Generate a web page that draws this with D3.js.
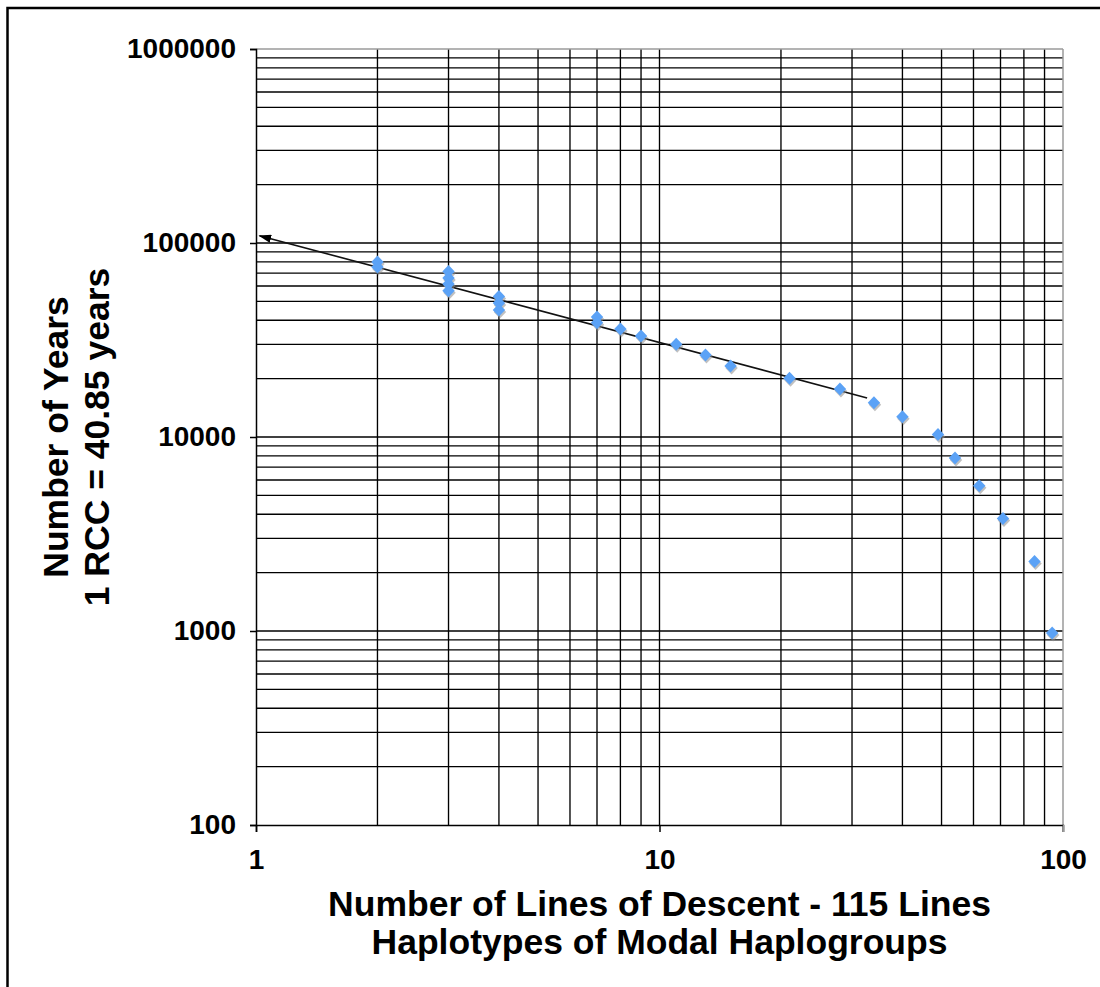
<!DOCTYPE html>
<html>
<head>
<meta charset="utf-8">
<script src="https://cdn.jsdelivr.net/npm/d3@7"></script>
<style>
  html, body { margin: 0; padding: 0; background: #fff; }
  svg { display: block; }
  text { font-family: "Liberation Sans", Arial, Helvetica, sans-serif; font-weight: bold; fill: #000; }
</style>
</head>
<body>
<svg id="chart" width="1100" height="987"></svg>
<script>
// Lines of descent (x) against estimated age in years (y)
const lines = [2, 2, 3, 3, 3, 3, 4, 4, 4, 7, 7, 8, 9, 11, 13, 15, 21, 28, 34, 40, 49, 54, 62, 71, 85, 94];
const years = [79800, 75200, 71300, 66000, 61400, 56700, 53000, 49100, 45200, 41600, 38800, 36000, 33200,
               30100, 26500, 23200, 20100, 17700, 15000, 12700, 10300, 7800, 5600, 3800, 2280, 977];

// Fitted power-law trend, drawn between these two points with an arrow at the left end
const trendLines = [1.02, 32.7];
const trendYears = [109000, 15900];

// Axis ranges and labelled ticks
const xDomain = [1, 100];
const yDomain = [100, 1000000];
const xTickLabels = [1, 10, 100];
const yTickLabels = [100, 1000, 10000, 100000, 1000000];

const xTitle = ["Number of Lines of Descent - 115 Lines", "Haplotypes of Modal Haplogroups"];
const yTitle = ["Number of Years", "1 RCC = 40.85 years"];

const svg = d3.select("#chart");
const L = 256, R = 1063, T = 49, B = 825;

const x = d3.scaleLog().domain(xDomain).range([L, R]);
const y = d3.scaleLog().domain(yDomain).range([B, T]);

// outer frame (left and top edges)
svg.append("path")
  .attr("d", "M7.5,987 V8 H1100")
  .attr("fill", "none").attr("stroke", "#000").attr("stroke-width", 2.5);

// gridlines: every 1..9 multiple of each decade
const grid = svg.append("g").attr("stroke", "#000").attr("stroke-width", 1.35);
y.ticks().filter(v => v < yDomain[1] && v > yDomain[0]).forEach(v => {
  grid.append("line").attr("x1", L).attr("x2", R).attr("y1", y(v)).attr("y2", y(v));
});
x.ticks().filter(v => v > xDomain[0] && v < xDomain[1]).forEach(v => {
  grid.append("line").attr("x1", x(v)).attr("x2", x(v)).attr("y1", T).attr("y2", B);
});

// plot frame: grey top/right, black axes left/bottom
svg.append("line").attr("x1", L).attr("x2", R).attr("y1", T).attr("y2", T)
  .attr("stroke", "#9a9a9a").attr("stroke-width", 1.5);
svg.append("line").attr("x1", R).attr("x2", R).attr("y1", T).attr("y2", B + 7)
  .attr("stroke", "#9a9a9a").attr("stroke-width", 1.5);

const yAxis = d3.axisLeft(y).tickValues(yTickLabels).tickFormat(d3.format("d")).tickSize(6).tickPadding(14);
const xAxis = d3.axisBottom(x).tickValues(xTickLabels).tickFormat(d3.format("d")).tickSize(7).tickPadding(17);

const gy = svg.append("g").attr("transform", `translate(${L},0)`).call(yAxis);
const gx = svg.append("g").attr("transform", `translate(0,${B})`).call(xAxis);
[gy, gx].forEach(g => {
  g.select(".domain").attr("stroke", "#000").attr("stroke-width", 1.5);
  g.selectAll(".tick line").attr("stroke", "#000").attr("stroke-width", 1.5);
  g.selectAll(".tick text").attr("font-size", 28).attr("font-family", null).attr("fill", "#000");
});
gx.select(".tick:last-of-type line").attr("stroke", "#9a9a9a");

// trend line with arrowhead
svg.append("defs").append("marker")
  .attr("id", "arrow")
  .attr("viewBox", "0 0 12 8")
  .attr("refX", 11).attr("refY", 4)
  .attr("markerWidth", 13).attr("markerHeight", 8.5)
  .attr("markerUnits", "userSpaceOnUse")
  .attr("orient", "auto-start-reverse")
  .append("path").attr("d", "M0,0 L12,4 L0,8 Z").attr("fill", "#000");

svg.append("path")
  .datum(trendLines.map((v, i) => [v, trendYears[i]]))
  .attr("d", d3.line().x(d => x(d[0])).y(d => y(d[1])))
  .attr("fill", "none").attr("stroke", "#111").attr("stroke-width", 1.6)
  .attr("marker-start", "url(#arrow)");

// data markers: blue diamonds with a soft grey drop shadow
const diamond = "M0,-6.5 L6.2,0 L0,6.5 L-6.2,0 Z";
const pts = lines.map((v, i) => [v, years[i]]);
svg.append("g").selectAll("path").data(pts).join("path")
  .attr("d", diamond)
  .attr("transform", d => `translate(${x(d[0]) + 1},${y(d[1]) + 2})`)
  .attr("fill", "#8c8c8c").attr("opacity", 0.55);
svg.append("g").selectAll("path").data(pts).join("path")
  .attr("d", diamond)
  .attr("transform", d => `translate(${x(d[0])},${y(d[1])})`)
  .attr("fill", "#5ba2f6");

// axis titles
const xt = svg.append("text").attr("text-anchor", "middle").attr("font-size", 35.5);
xTitle.forEach((t, i) => xt.append("tspan").attr("x", (L + R) / 2).attr("y", 916 + i * 38).text(t));

const yt = svg.append("text").attr("text-anchor", "middle").attr("font-size", 35.5)
  .attr("transform", `translate(0,${(T + B) / 2}) rotate(-90)`);
yTitle.forEach((t, i) => yt.append("tspan").attr("x", 0).attr("y", 68 + i * 41).text(t));
</script>
</body>
</html>
